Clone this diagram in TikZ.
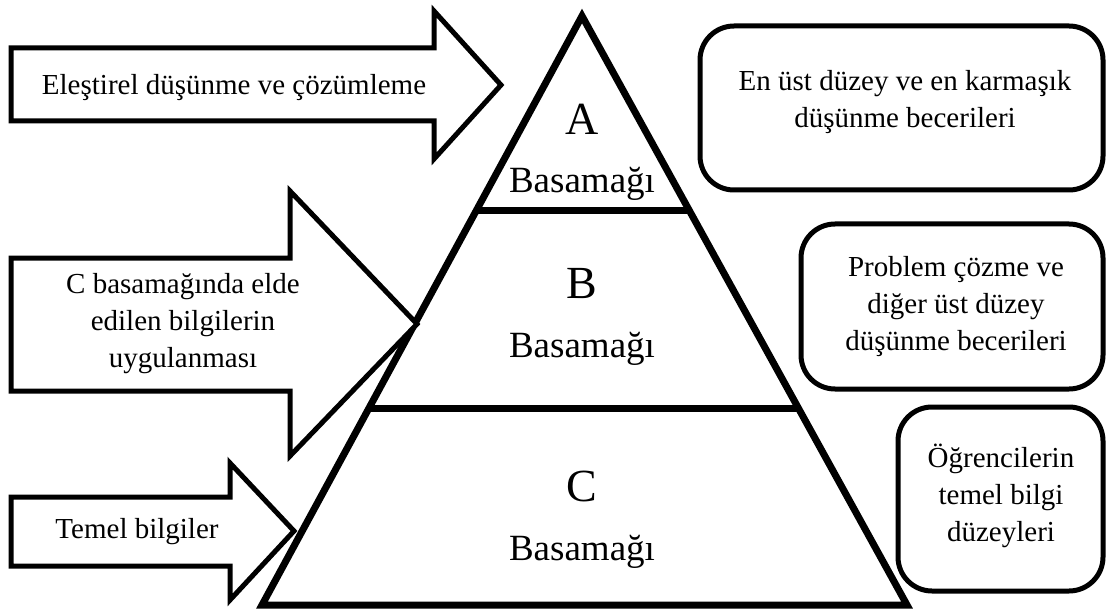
\documentclass[tikz,border=0pt]{standalone}
\usepackage{fontspec}
\setmainfont{Liberation Serif}
\usetikzlibrary{calc}
\begin{document}
\begin{tikzpicture}[x=1pt,y=-1pt,
  arrowshape/.style={draw=black,fill=white,line width=5pt,line join=miter},
  pyr/.style={draw=black,line width=7pt,line join=miter},
  infobox/.style={draw=black,fill=white,line width=5pt,rounded corners=34pt},
  lbl/.style={font=\fontsize{29}{37}\selectfont,align=center,inner sep=0pt},
  letter/.style={font=\fontsize{46}{50}\selectfont,inner sep=0pt,anchor=base},
  step label/.style={font=\fontsize{37}{40}\selectfont,inner sep=0pt,anchor=base}]
\useasboundingbox (0,0) rectangle (1107,612);
% pyramid
\coordinate (apex) at (582,16);
\coordinate (bl) at (262,605);
\coordinate (br) at (907,605);
\draw[pyr] (apex) -- (bl) -- (br) -- cycle;
\coordinate (abL) at ($(apex)!0.331!(bl)$);
\coordinate (abR) at ($(apex)!0.331!(br)$);
\coordinate (bcL) at ($(apex)!0.667!(bl)$);
\coordinate (bcR) at ($(apex)!0.667!(br)$);
\draw[pyr] (abL) -- (abR);
\draw[pyr] (bcL) -- (bcR);
\node[letter] (lA) at (582,135) {A};
\node[step label] (sA) at (582,193) {Basamağı};
\node[letter] (lB) at (582,298) {B};
\node[step label] (sB) at (582,357) {Basamağı};
\node[letter] (lC) at (582,501) {C};
\node[step label] (sC) at (582,560) {Basamağı};
% arrows
\draw[arrowshape] (11,48) -- (434,48) -- (434,11) -- (501,85) -- (434,159) -- (434,121) -- (11,121) -- cycle;
\draw[arrowshape] (11,258) -- (290,258) -- (290,191) -- (417,324) -- (290,456) -- (290,391) -- (11,391) -- cycle;
\draw[arrowshape] (11,497) -- (230,497) -- (230,463) -- (294,531) -- (230,600) -- (230,566) -- (11,566) -- cycle;
\node[lbl,anchor=base] (t1) at (234,95) {Eleştirel düşünme ve çözümleme};
\node[lbl] (t2) at (183,324) {C basamağında elde\\edilen bilgilerin\\uygulanması};
\node[lbl,anchor=base] (t3) at (137,538) {Temel bilgiler};
% boxes
\draw[infobox] (700,26) rectangle (1103,190);
\draw[infobox] (801,224) rectangle (1103,389);
\draw[infobox] (898,407) rectangle (1103,591);
\node[lbl] (b1) at (905,102) {En üst düzey ve en karmaşık\\düşünme becerileri};
\node[lbl] (b2) at (956,307) {Problem çözme ve\\diğer üst düzey\\düşünme becerileri};
\node[lbl] (b3) at (1001,496) {Öğrencilerin\\temel bilgi\\düzeyleri};
\end{tikzpicture}
\end{document}
